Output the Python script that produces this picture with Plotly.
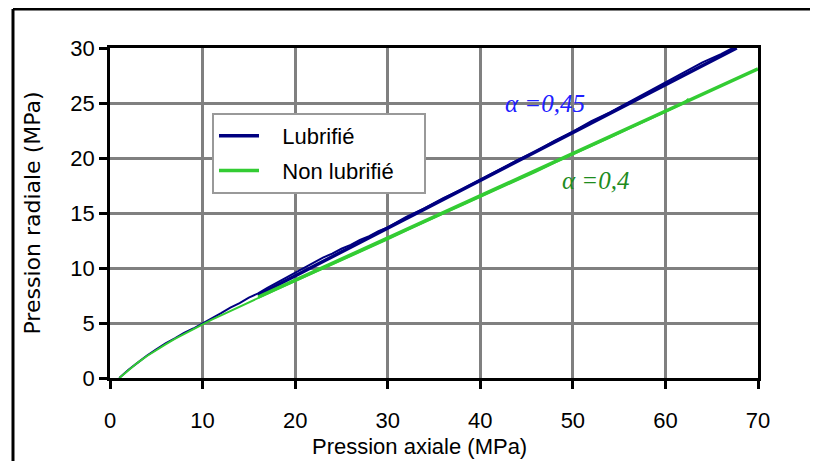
import plotly.graph_objects as go

# Measured data
lub_x = [1, 2, 3, 4, 5, 6, 7, 8, 9, 10, 11, 12, 13, 14, 15, 16, 17, 18, 19, 20,
         21, 22, 23, 24, 25, 26, 27, 28, 29, 30, 32, 34, 36, 38, 40, 42, 44, 46,
         48, 50, 52, 54, 56, 58, 60, 62, 64, 66, 67.5]
lub_y = [0.0, 0.75, 1.4, 2.05, 2.6, 3.15, 3.6, 4.1, 4.5, 4.95, 5.45, 5.9, 6.4,
         6.8, 7.3, 7.7, 8.2, 8.65, 9.15, 9.6, 10.05, 10.45, 10.95, 11.3, 11.75, 12.1,
         12.55, 12.9, 13.35, 13.7, 14.65, 15.45, 16.35, 17.15, 18.05, 18.9, 19.8, 20.6,
         21.55, 22.4, 23.35, 24.15, 25.05, 25.95, 26.9, 27.75, 28.7, 29.45, 30.1]

nonlub_x = [1, 2, 3, 4, 5, 6, 7, 8, 9, 10, 11, 12, 13, 14, 15, 16, 18, 20, 22, 24,
            26, 28, 30, 32, 34, 36, 38, 40, 42, 44, 46, 48, 50, 52, 54, 56, 58, 60,
            62, 62.5]
nonlub_y = [0.0, 0.7, 1.4, 2.0, 2.55, 3.05, 3.55, 4.0, 4.45, 4.9, 5.3, 5.7, 6.1,
            6.5, 6.9, 7.3, 8.05, 8.8, 9.55, 10.35, 11.1, 11.85, 12.6, 13.4, 14.2,
            14.95, 15.7, 16.45, 17.2, 17.95, 18.75, 19.55, 20.3, 21.1, 21.85, 22.65,
            23.4, 24.2, 25.0, 25.4]

# Fitted straight lines
lub_fit_x = [16, 67.7]
lub_fit_y = [7.55, 30.0]
nonlub_fit_x = [16, 70]
nonlub_fit_y = [7.35, 28.1]

x_ticks = [0, 10, 20, 30, 40, 50, 60, 70]
y_ticks = [0, 5, 10, 15, 20, 25, 30]

BLUE = "#000080"
GREEN = "#33cc33"
NB = "\u00a0"

fig = go.Figure()
fig.add_trace(go.Scatter(x=lub_x, y=lub_y, mode="lines", name="Lubrifié",
                         line=dict(color=BLUE, width=2), showlegend=False))
fig.add_trace(go.Scatter(x=nonlub_x, y=nonlub_y, mode="lines", name="Non lubrifié",
                         line=dict(color=GREEN, width=2), showlegend=False))
fig.add_trace(go.Scatter(x=lub_fit_x, y=lub_fit_y, mode="lines",
                         name=NB * 3 + "Lubrifié" + NB * 4,
                         legendgroup="a", line=dict(color=BLUE, width=3.5)))
fig.add_trace(go.Scatter(x=nonlub_fit_x, y=nonlub_fit_y, mode="lines",
                         name=NB * 3 + "Non lubrifié" + NB * 4,
                         legendgroup="b", line=dict(color=GREEN, width=3.5)))

fig.add_annotation(x=47.0, y=25.0, text="<i>α =0,45</i>", showarrow=False,
                   font=dict(family="Liberation Serif", size=25, color="#2020ff"),
                   xanchor="center", yanchor="middle")
fig.add_annotation(x=52.5, y=18.0, text="<i>α =0,4</i>", showarrow=False,
                   font=dict(family="Liberation Serif", size=25, color="#1e8c1e"),
                   xanchor="center", yanchor="middle")

# x axis title as annotation (placed just under tick labels)
fig.add_annotation(xref="paper", yref="paper", x=0.478, y=-0.209,
                   text="Pression axiale (MPa)", showarrow=False,
                   xanchor="center", yanchor="middle",
                   font=dict(family="Liberation Sans", size=22, color="black"))

# outer frame (top and left lines)
fig.add_shape(type="line", xref="paper", yref="paper", x0=-0.1497, x1=1.2,
              y0=1.1182, y1=1.1182, line=dict(color="black", width=3))
fig.add_shape(type="line", xref="paper", yref="paper", x0=-0.1497, x1=-0.1497,
              y0=1.1182, y1=-0.3, line=dict(color="black", width=3))

axis_common = dict(showline=True, linecolor="black", linewidth=2.5, mirror=True,
                   ticks="outside", ticklen=8, tickwidth=2.5, tickcolor="black",
                   showgrid=True, gridcolor="#808080", gridwidth=3, zeroline=False,
                   tickfont=dict(family="Liberation Sans", size=22, color="black"))

fig.update_xaxes(range=[0, 70], tickvals=x_ticks, ticktext=[str(v) for v in x_ticks],
                 ticklabelstandoff=13, **axis_common)
fig.update_yaxes(range=[0, 30], tickvals=y_ticks, ticktext=[str(v) for v in y_ticks],
                 title=dict(text="Pression radiale (MPa)", standoff=24,
                            font=dict(family="DejaVu Sans", size=22, color="black")),
                 **axis_common)

fig.update_layout(
    width=818, height=461,
    margin=dict(l=102, r=68, t=40, b=91),
    plot_bgcolor="white", paper_bgcolor="white",
    legend=dict(x=0.1574, y=0.803, xanchor="left", yanchor="top",
                bgcolor="white", bordercolor="#999999", borderwidth=2,
                font=dict(family="Liberation Sans", size=22, color="black"),
                tracegroupgap=3, itemwidth=40),
)

fig.write_html("out.html")
